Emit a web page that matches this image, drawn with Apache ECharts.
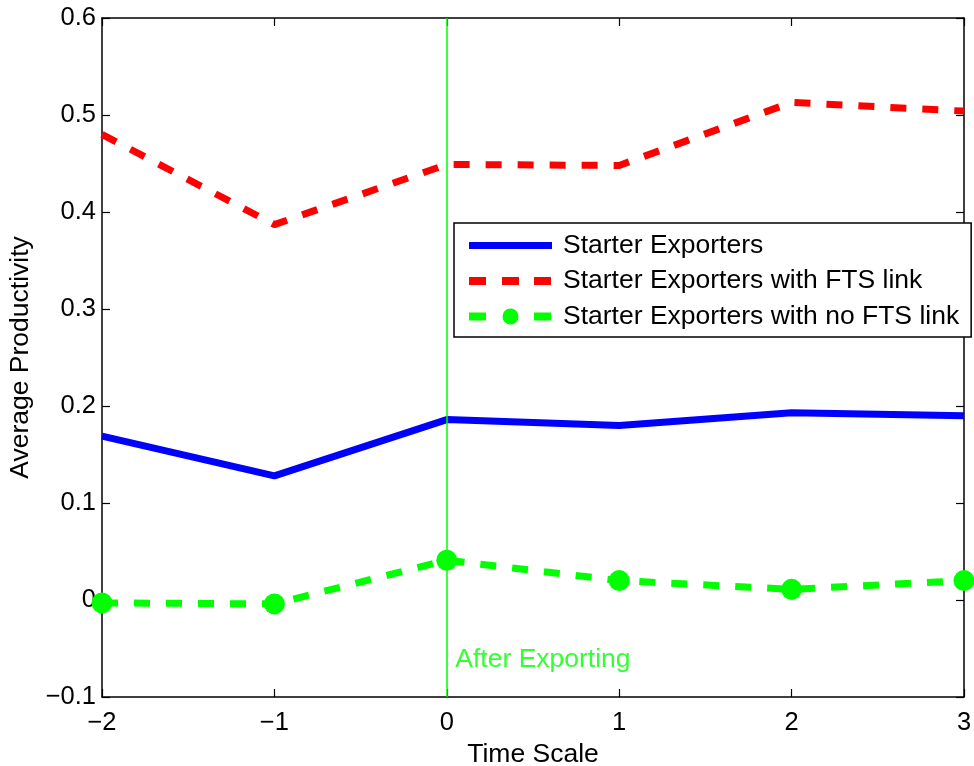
<!DOCTYPE html>
<html>
<head>
<meta charset="utf-8">
<script src="https://cdn.jsdelivr.net/npm/echarts@6/dist/echarts.min.js"></script>
<style>
  html, body { margin: 0; padding: 0; background: #fff; }
  #chart { width: 974px; height: 766px; }
</style>
</head>
<body>
<div id="chart"></div>
<script>
// time scale (years relative to export start)
const timeScale = [-2, -1, 0, 1, 2, 3];
const starterExporters = [0.169, 0.128, 0.186, 0.180, 0.193, 0.190];
const withFtsLink = [0.480, 0.387, 0.449, 0.448, 0.513, 0.504];
const noFtsLink = [-0.003, -0.004, 0.041, 0.020, 0.011, 0.020];
const seriesNames = ['Starter Exporters', 'Starter Exporters with FTS link', 'Starter Exporters with no FTS link'];
const markerX = 0;
const markerText = 'After Exporting';

const font = 'Liberation Sans, Arial, Helvetica, sans-serif';

function pairs(ys) {
    return timeScale.map((x, i) => [x, ys[i]]);
}

function fmt(v) {
    let s = String(Math.round(v * 10) / 10);
    return s.replace('-', '\u2212');
}

// legend icons drawn in an 83 x 24 box (tiny corner anchors keep the box size)
const anchors = 'M0,0L0.01,0L0,0.01Z M83,24L82.99,24L83,23.99Z ';
const iconSolid = 'path://' + anchors + 'M0,8.5L83,8.5L83,15.5L0,15.5Z';
const iconDashed = 'path://' + anchors + 'M0,8L17,8L17,16L0,16Z M33,8L50,8L50,16L33,16Z M65,8L82,8L82,16L65,16Z';
const iconDashedDot = 'path://' + anchors + 'M0,8L17,8L17,16L0,16Z M65,8L82,8L82,16L65,16Z ' +
    'M41.5,4 A8,8 0 1,1 41.49,4 Z';

const myChart = echarts.init(document.getElementById('chart'));

const axisCommon = {
    axisLine: { onZero: false, lineStyle: { color: '#000', width: 1.5 } },
    axisTick: { inside: true, length: 8, lineStyle: { color: '#000', width: 1.2 } },
    splitLine: { show: false }
};

myChart.setOption({
    animation: false,
    grid: { left: 102, right: 10, top: 18, bottom: 69, outerBoundsMode: 'none', containLabel: false },
    xAxis: [
        Object.assign({
            type: 'value', min: -2, max: 3, interval: 1,
            name: 'Time Scale', nameLocation: 'middle', nameGap: 41,
            nameTextStyle: { fontFamily: font, fontSize: 26.5, color: '#000' },
            axisLabel: { fontFamily: font, fontSize: 25.5, color: '#000', margin: 13, formatter: fmt }
        }, axisCommon),
        Object.assign({
            type: 'value', min: -2, max: 3, interval: 1, position: 'top',
            axisLabel: { show: false }
        }, axisCommon)
    ],
    yAxis: [
        Object.assign({
            type: 'value', min: -0.1, max: 0.6, interval: 0.1,
            name: 'Average Productivity', nameLocation: 'middle', nameGap: 68,
            nameTextStyle: { fontFamily: font, fontSize: 26.5, color: '#000' },
            axisLabel: { fontFamily: font, fontSize: 25.5, color: '#000', margin: 6, formatter: fmt }
        }, axisCommon),
        Object.assign({
            type: 'value', min: -0.1, max: 0.6, interval: 0.1, position: 'right',
            axisLabel: { show: false }
        }, axisCommon)
    ],
    legend: {
        orient: 'vertical',
        left: 454, top: 223,
        padding: [9, 12, 7, 15],
        itemGap: 8.5,
        itemWidth: 83, itemHeight: 24,
        backgroundColor: '#fff',
        borderColor: '#000', borderWidth: 1.5,
        itemStyle: { borderWidth: 0 },
        textStyle: { fontFamily: font, fontSize: 26.5, color: '#000', padding: [0, 0, 0, 6] },
        data: [
            { name: seriesNames[0], icon: iconSolid },
            { name: seriesNames[1], icon: iconDashed },
            { name: seriesNames[2], icon: iconDashedDot }
        ]
    },
    series: [
        {
            name: seriesNames[0], type: 'line', data: pairs(starterExporters),
            symbol: 'none', lineStyle: { color: '#0000ff', width: 7 },
            itemStyle: { color: '#0000ff' }, z: 3,
            markLine: {
                silent: true, symbol: 'none',
                lineStyle: { color: '#00ff00', width: 1.5, type: 'solid' },
                label: { show: false },
                data: [{ xAxis: markerX }]
            }
        },
        {
            name: seriesNames[1], type: 'line', data: pairs(withFtsLink),
            symbol: 'none', lineStyle: { color: '#ff0000', width: 7, type: [16, 16], cap: 'butt' },
            itemStyle: { color: '#ff0000' }, z: 3
        },
        {
            name: seriesNames[2], type: 'line', data: pairs(noFtsLink),
            symbol: 'circle', symbolSize: 21, showSymbol: true,
            lineStyle: { color: '#00ff00', width: 7, type: [16, 16], cap: 'butt' },
            itemStyle: { color: '#00ff00' }, z: 3
        },
        {
            name: markerText, type: 'scatter', silent: true,
            data: [[markerX, -0.0615]],
            symbol: 'circle', symbolSize: 1,
            itemStyle: { color: 'rgba(0,0,0,0)' },
            label: {
                show: true, position: 'right', distance: 8, formatter: markerText,
                fontFamily: font, fontSize: 26.5, color: '#00ff00'
            },
            z: 4
        }
    ]
});
</script>
</body>
</html>
